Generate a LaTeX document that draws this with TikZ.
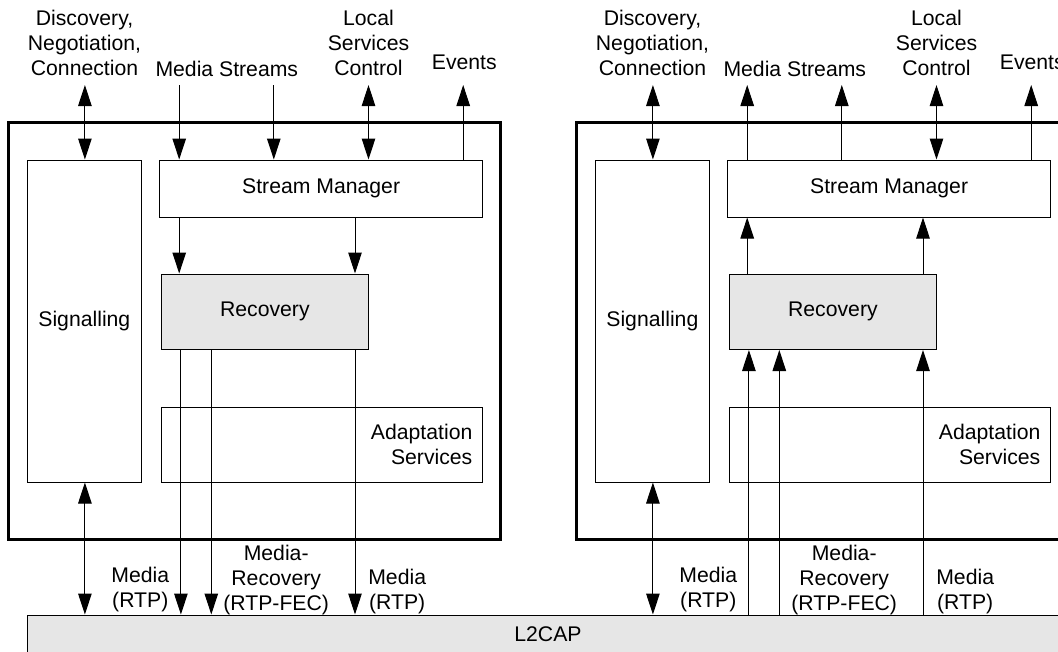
\documentclass[tikz,border=0pt]{standalone}
\usepackage{fontspec}
\setmainfont{Liberation Sans}
\usetikzlibrary{arrows.meta}
\definecolor{boxgray}{RGB}{230,230,230}
\tikzset{
  box/.style={draw, line width=1pt, inner sep=0pt},
  frame/.style={draw, line width=3pt, inner sep=0pt},
  lbl/.style={align=center, inner sep=0pt},
  fwd/.style={->},
  bwd/.style={<-},
  >={Triangle[length=21pt,width=13.5pt]}
}
\begin{document}
\begin{tikzpicture}[x=1pt, y=-1pt, font=\fontsize{21.2}{25}\selectfont]
  \useasboundingbox (0,0) rectangle (1058,651);
  \node[box, fill=boxgray, minimum width=1041.2, minimum height=38] (l2cap) at (548,634) {L2CAP};
  % sender on the left, receiver on the right
  \foreach \p/\dx/\flow in {l/0/fwd, r/568/bwd} {
    \begin{scope}[shift={(\dx,0)}]
      \node[frame, minimum width=491.8, minimum height=417] (frame\p) at (254.4,330.5) {};
      \begin{scope}[every node/.style={box}]
        \node[minimum width=113.9, minimum height=322] (sig\p) at (84.35,321) {Signalling};
        \node[minimum width=322.5, minimum height=57] (sm\p) at (321.15,188.5) {Stream Manager};
        \node[fill=boxgray, minimum width=207.2, minimum height=75.5] (rec\p) at (264.9,311.75) {Recovery};
        \node[minimum width=321.1, minimum height=75, text width=301, align=right] (adapt\p) at (321.85,444.5) {Adaptation\\Services};
      \end{scope}
      \coordinate (dnc\p) at (84.9,85);
      \coordinate (ms1\p) at (179.2,85);
      \coordinate (ms2\p) at (273.8,85);
      \coordinate (lsc\p) at (368.5,85);
      \coordinate (ev\p) at (463.2,85);
      \coordinate (m1\p) at (180.9,0);
      \coordinate (m2\p) at (211.3,0);
      \coordinate (m3\p) at (355,0);
      \begin{scope}[every node/.style={lbl}]
        \node (dnclbl\p) at (84.5,42.5) {Discovery,\\Negotiation,\\Connection};
        \node (mslbl\p) at (226.8,69) {Media Streams};
        \node (lsclbl\p) at (368.5,42.5) {Local\\Services\\Control};
        \node (evlbl\p) at (464.3,62) {Events};
        \node (med1lbl\p) at (140.3,590) {Media\\(RTP)};
        \node (mrlbl\p) at (276.2,580.3) {Media-\\Recovery\\(RTP-FEC)};
        \node (med2lbl\p) at (397.2,592) {Media\\(RTP)};
      \end{scope}
    \end{scope}
    \begin{scope}[every edge/.style={draw, line width=1pt}]
      \path
        (dnc\p) edge[<->] (dnc\p |- sig\p.north)
        (dnc\p |- sig\p.south) edge[<->] (dnc\p |- l2cap.north)
        (ms1\p) edge[\flow] (ms1\p |- sm\p.north)
        (ms2\p) edge[\flow] (ms2\p |- sm\p.north)
        (lsc\p) edge[<->] (lsc\p |- sm\p.north)
        (ev\p) edge[<-] (ev\p |- sm\p.north)
        (ms1\p |- sm\p.south) edge[\flow] (ms1\p |- rec\p.north)
        (m3\p |- sm\p.south) edge[\flow] (m3\p |- rec\p.north)
        (m1\p |- rec\p.south) edge[\flow] (m1\p |- l2cap.north)
        (m2\p |- rec\p.south) edge[\flow] (m2\p |- l2cap.north)
        (m3\p |- rec\p.south) edge[\flow] (m3\p |- l2cap.north);
    \end{scope}
  }
\end{tikzpicture}
\end{document}
